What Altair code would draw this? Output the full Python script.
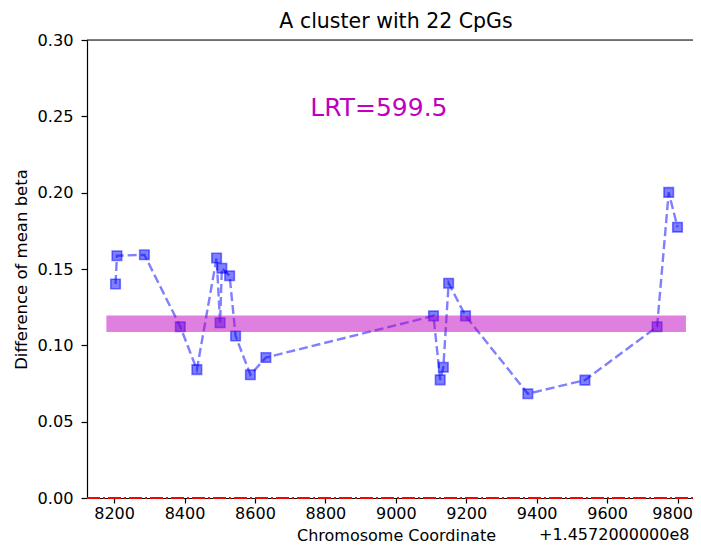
import altair as alt
import pandas as pd

# ---- data ----
positions = [8204, 8208, 8286, 8388, 8435, 8491, 8501, 8506, 8528, 8545, 8587, 8631,
             9107, 9126, 9135, 9150, 9198, 9375, 9537, 9742, 9775, 9800]
diff_beta = [0.1402, 0.1587, 0.1593, 0.1122, 0.0841, 0.1572, 0.1148, 0.1505, 0.1456,
             0.1061, 0.0807, 0.0920, 0.1193, 0.0774, 0.0856, 0.1407, 0.1193, 0.0683,
             0.0772, 0.1122, 0.2002, 0.1774]
band_x = [8178, 9824]
band_y = [0.1088, 0.1195]
zero_y = [0.0]
lrt_label = ["LRT=599.5"]
lrt_pos = [8757, 0.25]
x_ticks = [8200, 8400, 8600, 8800, 9000, 9200, 9400, 9600, 9800]
y_ticks = [0.00, 0.05, 0.10, 0.15, 0.20, 0.25, 0.30]
x_domain = [8123, 9844]
y_domain = [0.0, 0.30]
title_text = ["A cluster with 22 CpGs"]
x_title = "Chromosome Coordinate"
y_title = "Difference of mean beta"
offset_text = ["+1.4572000000e8"]

FONT = "DejaVu Sans"
W, H = 606, 458

pts = pd.DataFrame({"pos": positions, "diff": diff_beta})
band = pd.DataFrame({"x1": [band_x[0]], "x2": [band_x[1]], "y1": [band_y[0]], "y2": [band_y[1]]})
zero = pd.DataFrame({"y": zero_y})
lrt = pd.DataFrame({"label": lrt_label, "x": [lrt_pos[0]], "y": [lrt_pos[1]]})
off = pd.DataFrame({"t": offset_text})
ttl = pd.DataFrame({"t": title_text})
top = pd.DataFrame({"y": [y_domain[1]]})

xscale = alt.Scale(domain=x_domain, nice=False, zero=False)
yscale = alt.Scale(domain=y_domain, nice=False, zero=False)

x_axis = alt.Axis(values=x_ticks, format="d", title=x_title, grid=False,
                  tickSize=5, labelPadding=2, labelFontSize=16, labelFont=FONT,
                  labelColor="black", tickColor="black", domainColor="black",
                  domainWidth=1.2, tickWidth=1.2, labelFlush=20, labelFlushOffset=15,
                  titleFont=FONT, titleFontSize=16, titleFontWeight="normal",
                  titleColor="black", titleX=309, titleY=42, titleBaseline="alphabetic",
                  titleAlign="center")
y_axis = alt.Axis(values=y_ticks, format=".2f", title=y_title, grid=False,
                  tickSize=6, labelPadding=8, labelFontSize=16.2, labelFont=FONT,
                  labelColor="black", tickColor="black", domainColor="black",
                  domainWidth=1.2, tickWidth=1.2, labelFlush=False,
                  titleFont=FONT, titleFontSize=16.5, titleFontWeight="normal",
                  titleColor="black", titleX=-61, titleY=H / 2, titleAngle=270,
                  titleBaseline="alphabetic", titleAlign="center")

base = alt.Chart(pts)

line = base.mark_line(color="blue", opacity=0.5, strokeWidth=2.4, strokeDash=[9, 4]).encode(
    x=alt.X("pos:Q", scale=xscale, axis=x_axis),
    y=alt.Y("diff:Q", scale=yscale, axis=y_axis),
)
points = base.mark_point(shape="square", filled=True, size=90, fill="blue", fillOpacity=0.5,
                         stroke="blue", strokeOpacity=0.5, strokeWidth=1.6).encode(
    x=alt.X("pos:Q", scale=xscale),
    y=alt.Y("diff:Q", scale=yscale),
)
band_mark = alt.Chart(band).mark_rect(color="#BF00BF", opacity=0.5).encode(
    x=alt.X("x1:Q", scale=xscale), x2="x2:Q",
    y=alt.Y("y1:Q", scale=yscale), y2="y2:Q",
)
zero_line = alt.Chart(zero).mark_rule(color="red", strokeWidth=2, strokeDash=[13, 3, 2, 3]).encode(
    y=alt.Y("y:Q", scale=yscale), x=alt.value(0), x2=alt.value(W),
)
top_spine = alt.Chart(top).mark_rule(color="black", strokeWidth=1.2).encode(
    y=alt.Y("y:Q", scale=yscale), x=alt.value(0), x2=alt.value(W),
)
lrt_text = alt.Chart(lrt).mark_text(align="left", baseline="alphabetic", fontSize=25,
                                     font=FONT, color="#BF00BF").encode(
    x=alt.X("x:Q", scale=xscale), y=alt.Y("y:Q", scale=yscale), text="label:N",
)
off_text = alt.Chart(off).mark_text(align="left", baseline="alphabetic", fontSize=16,
                                     font=FONT, color="black").encode(
    x=alt.value(452), y=alt.value(H + 42), text="t:N",
)
title_mark = alt.Chart(ttl).mark_text(align="center", baseline="alphabetic", fontSize=20.5,
                                       font=FONT, color="black").encode(
    x=alt.value(309), y=alt.value(-12), text="t:N",
)

chart = alt.layer(line, points, band_mark, zero_line, top_spine, lrt_text, off_text,
                  title_mark).properties(
    width=W, height=H,
    autosize=alt.AutoSizeParams(type="none"),
    padding={"left": 79, "top": 32, "right": 0, "bottom": 46},
).configure_view(stroke=None, clip=False).configure(background="white")

chart.save("out.html", embed_options={"renderer": "svg", "actions": False})
